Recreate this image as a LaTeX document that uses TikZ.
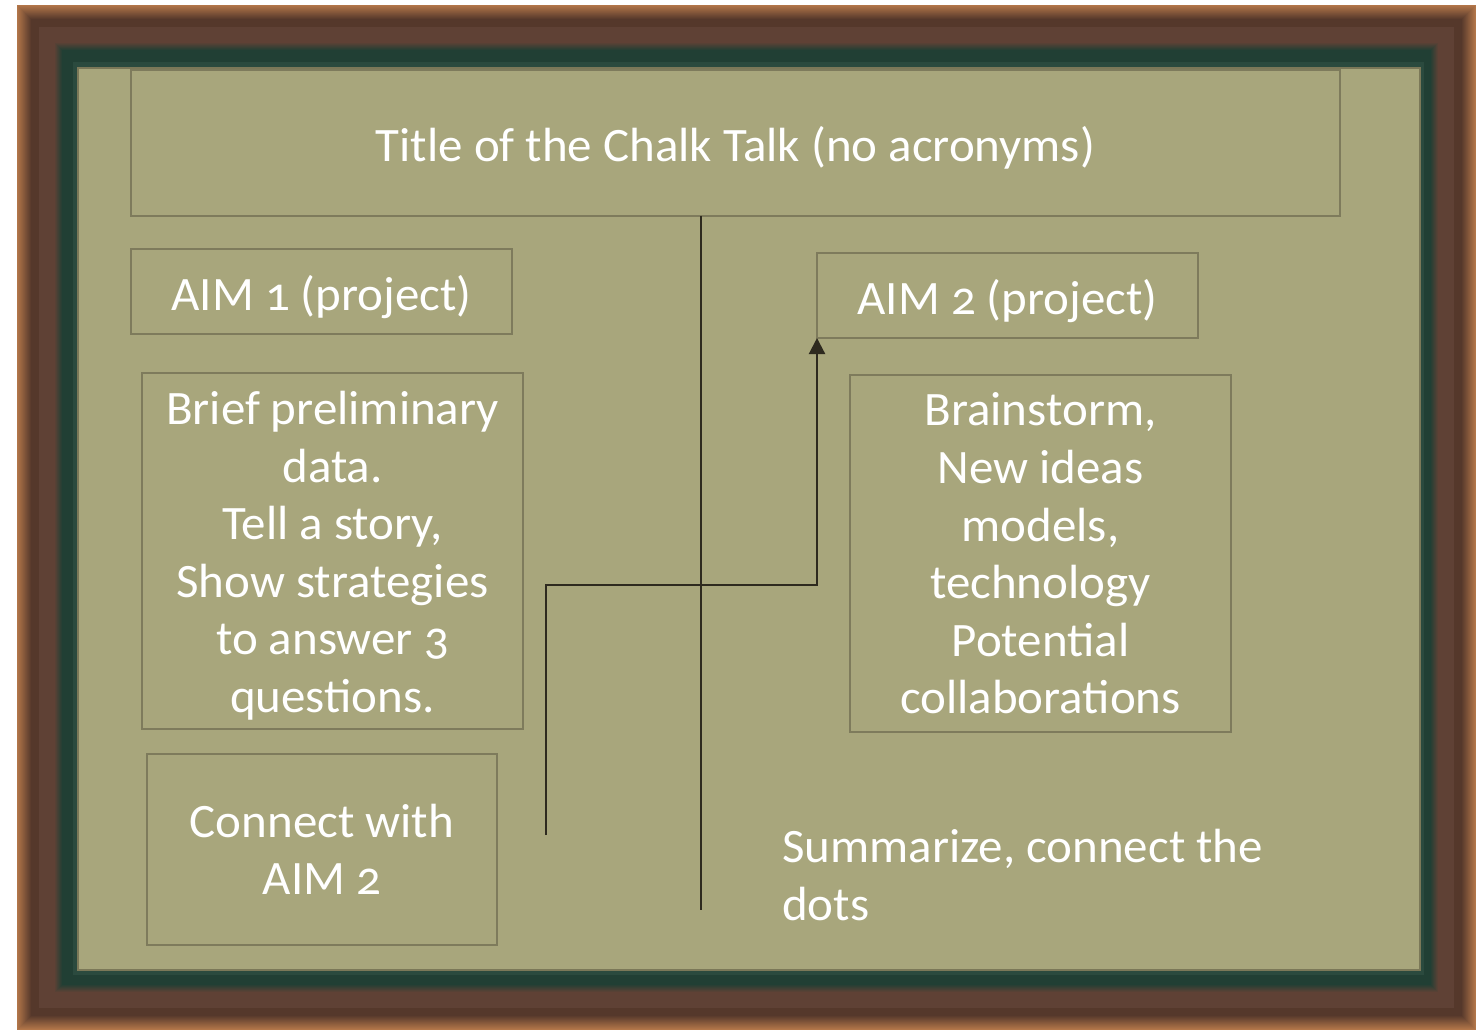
\documentclass[tikz,border=0pt]{standalone}
\usepackage{fontspec}
\setmainfont[Numbers=OldStyle,FakeStretch=1.02]{Carlito}
\usetikzlibrary{arrows.meta,calc}
\definecolor{board}{HTML}{A8A67C}
\definecolor{boardedge}{HTML}{7B7858}
\definecolor{boxline}{HTML}{7E7B5C}
\definecolor{ink}{HTML}{2E2A1F}
\definecolor{fo}{HTML}{B27649}
\definecolor{fd}{HTML}{55382B}
\definecolor{fm}{HTML}{5F4135}
\definecolor{fg}{HTML}{213F34}
\definecolor{fgl}{HTML}{2B4A3E}
\newcommand\lowerby[1]{\rule{0pt}{#1}}
\tikzset{
  chalkbox/.style={draw=boxline, line width=1.5pt, inner sep=0pt, outer sep=0pt,
    align=center, text=white, font=\fontsize{36}{43.2}\selectfont},
  chalktext/.style={inner sep=0pt, align=left, text=white, font=\fontsize{36}{43.2}\selectfont},
  trunk/.style={draw=ink, line width=1.1pt},
  elbow/.style={draw=ink, line width=1.6pt, -{Triangle[width=12pt,length=12pt]}}
}
\begin{document}
\begin{tikzpicture}[x=0.75pt,y=-0.75pt]
\useasboundingbox (0,0) rectangle (1476,1030);
\fill[white] (0,0) rectangle (1476,1030);
% frame
\foreach \i in {0,...,14}{
  \pgfmathtruncatemacro\p{100-\i*100/14}
  \fill[fo!\p!fd] (17+\i,5+\i) rectangle (1476-\i,1030-\i);
}
\fill[fd] (32,20) rectangle (1461,1015);
\fill[fm] (39,27) rectangle (1454,1008);
\foreach \i in {0,...,8}{
  \pgfmathtruncatemacro\p{100-\i*100/8}
  \fill[fm!\p!fg] (54+\i,42+\i) rectangle (1439-\i,993-\i);
}
\fill[fg] (63,51) rectangle (1430,984);
\fill[fgl] (73,62) rectangle (1424,975);
\fill[board, draw=boardedge, line width=1.5pt] (78,68) rectangle (1420,970);
% boxes
\node[chalkbox, minimum width=906.75pt, minimum height=109.5pt] (title) at (735.5,143) {\lowerby{34pt}Title of the Chalk Talk (no acronyms)};
\node[chalkbox, minimum width=285.75pt, minimum height=63.75pt] (aim1) at (321.5,291.5) {\lowerby{34pt}AIM 1 (project)};
\node[chalkbox, minimum width=285.75pt, minimum height=63.75pt] (aim2) at (1007.5,295.5) {\lowerby{34pt}AIM 2 (project)};
\node[chalkbox, minimum width=285.75pt, minimum height=267pt] (brief) at (332.5,551) {\lowerby{32pt}Brief preliminary\\data.\\Tell a story,\\Show strategies\\to answer 3\\questions.};
\node[chalkbox, minimum width=285.75pt, minimum height=267.75pt] (brain) at (1040.5,553.5) {Brainstorm,\\New ideas\\models,\\technology\\Potential\\collaborations};
\node[chalkbox, minimum width=262.5pt, minimum height=143.25pt] (connect) at (322,849.5) {Connect with\\AIM 2};
\node[chalktext, anchor=west] (summary) at (782,875) {Summarize, connect the\\dots};
% connectors
\coordinate (trunkend) at (701,910);
\draw[trunk] (title.south -| trunkend) -- (trunkend);
\coordinate (elbowstart) at (546,835);
\coordinate (elbowy) at (0,585);
\draw[elbow] (elbowstart) -- (elbowstart |- elbowy) -| (aim2.south west);
\end{tikzpicture}
\end{document}
